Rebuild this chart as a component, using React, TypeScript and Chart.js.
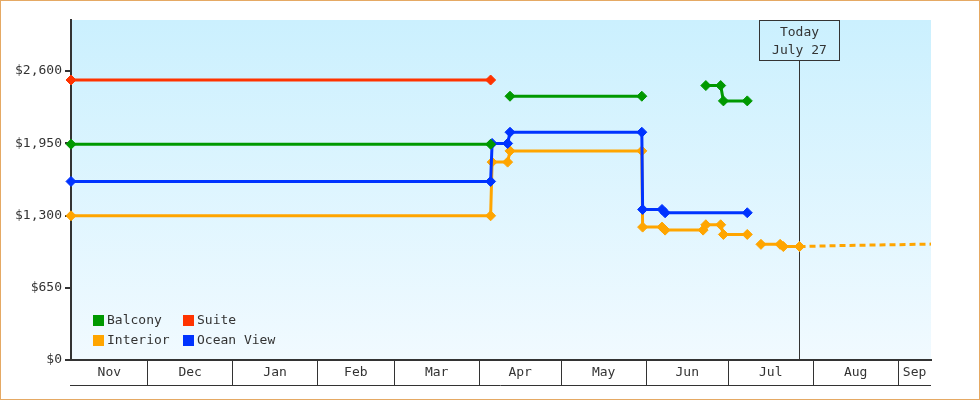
import React, { useEffect, useRef } from "react";
import { Chart, registerables } from "chart.js";

Chart.register(...registerables);

// ---- Data ----
const RANGE_START = "2024-11-03";
const RANGE_END = "2025-09-13";
const TODAY = "2025-07-27";
const TODAY_LABEL = ["Today", "July 27"];
const MONTH_LABELS = ["Nov", "Dec", "Jan", "Feb", "Mar", "Apr", "May", "Jun", "Jul", "Aug", "Sep"];
const Y_TICKS = [0, 650, 1300, 1950, 2600];
const Y_MAX = 3060;

const balconyDates = ["2024-11-03", "2025-04-05T05", "2025-04-08", "2025-04-12T07", "2025-05-30T10", "2025-06-10", "2025-06-22T19", "2025-06-28T05", "2025-06-29T05", "2025-07-07T22"];
const balconyPrices = [1942, 1942, null, 2374, 2374, null, 2470, 2470, 2332, 2332];

const suiteDates = ["2024-11-03", "2025-04-05T05"];
const suitePrices = [2520, 2520];

const interiorDates = ["2024-11-03", "2025-04-05T05", "2025-04-05T18", "2025-04-11T10", "2025-04-12T07", "2025-05-30T10", "2025-05-30T17", "2025-06-06T19", "2025-06-07T22", "2025-06-21T19", "2025-06-22T19", "2025-06-28T05", "2025-06-29T05", "2025-07-07T22", "2025-07-10", "2025-07-12T22", "2025-07-19T22", "2025-07-21T02", "2025-07-27"];
const interiorPrices = [1298, 1298, 1781, 1781, 1882, 1882, 1196, 1196, 1169, 1169, 1217, 1217, 1130, 1130, null, 1041, 1041, 1021, 1021];

const interiorForecastDates = ["2025-07-27", "2025-08-07T02", "2025-09-13"];
const interiorForecastPrices = [1021, 1028, 1043];

const oceanDates = ["2024-11-03", "2025-04-05T05", "2025-04-05T18", "2025-04-11T10", "2025-04-12T07", "2025-05-30T10", "2025-05-30T17", "2025-06-06T19", "2025-06-07T22", "2025-07-07T22"];
const oceanPrices = [1607, 1607, 1949, 1949, 2050, 2050, 1355, 1355, 1325, 1325];

const GREEN = "#009900";
const RED = "#ff3300";
const ORANGE = "#ffa500";
const BLUE = "#0033ff";
const INK = "#333333";
const FONT = { family: "'DejaVu Sans Mono', monospace", size: 13 };

// ---- helpers ----
const day = (s: string) => {
  const [d, t] = s.split("T");
  const [Y, M, D] = d.split("-").map(Number);
  return Date.UTC(Y, M - 1, D, t ? Number(t) : 0) / 86400000;
};
const pts = (dates: string[], prices: (number | null)[]) =>
  dates.map((d, i) => ({ x: day(d), y: prices[i] }));

const X_MIN = day(RANGE_START);
const X_MAX = day(RANGE_END);

type MTick = { value: number; boundary?: boolean; name?: string };
const buildMonthTicks = (): MTick[] => {
  const out: MTick[] = [];
  const [sy, sm] = RANGE_START.split("-").map(Number);
  MONTH_LABELS.forEach((name, i) => {
    const start = Date.UTC(sy, sm - 1 + i, 1) / 86400000;
    const end = Date.UTC(sy, sm + i, 1) / 86400000;
    const a = Math.max(start, X_MIN);
    const b = Math.min(end, X_MAX);
    if (start > X_MIN) out.push({ value: start, boundary: true, name: "" });
    out.push({ value: (a + b) / 2, boundary: false, name });
  });
  return out;
};
const MONTH_TICKS = buildMonthTicks();

const LEGEND = [
  { label: "Balcony", color: GREEN },
  { label: "Suite", color: RED },
  { label: "Interior", color: ORANGE },
  { label: "Ocean View", color: BLUE },
];

const decorPlugin = {
  id: "decor",
  beforeDraw(chart: any) {
    const { ctx, chartArea: a, width, height } = chart;
    ctx.save();
    ctx.fillStyle = "#ffffff";
    ctx.fillRect(0, 0, width, height);
    const g = ctx.createLinearGradient(0, a.top, 0, a.bottom);
    g.addColorStop(0, "#cbf0fe");
    g.addColorStop(1, "#f1faff");
    ctx.fillStyle = g;
    ctx.fillRect(a.left, a.top, a.right - a.left, a.bottom - a.top);
    ctx.strokeStyle = "#e5a964";
    ctx.lineWidth = 1;
    ctx.strokeRect(0.5, 0.5, width - 1, height - 1);
    ctx.restore();
  },
  beforeDatasetsDraw(chart: any) {
    const { ctx, chartArea: a, scales } = chart;
    const x = Math.floor(scales.x.getPixelForValue(day(TODAY))) + 0.5;
    const boxW = 80, boxH = 40, boxTop = a.top + 0.5;
    ctx.save();
    ctx.strokeStyle = INK;
    ctx.lineWidth = 1;
    ctx.beginPath();
    ctx.moveTo(x, boxTop + boxH);
    ctx.lineTo(x, a.bottom);
    ctx.stroke();
    ctx.strokeRect(x - boxW / 2, boxTop, boxW, boxH);
    ctx.fillStyle = INK;
    ctx.font = `${FONT.size}px ${FONT.family}`;
    ctx.textAlign = "center";
    ctx.textBaseline = "middle";
    ctx.fillText(TODAY_LABEL[0], x, boxTop + 12.5);
    ctx.fillText(TODAY_LABEL[1], x, boxTop + 30);
    ctx.restore();
  },
  afterDraw(chart: any) {
    const { ctx, chartArea: a, scales } = chart;
    ctx.save();
    // bottom line of month row
    ctx.strokeStyle = INK;
    ctx.lineWidth = 1;
    const yb = Math.round(scales.x.top + 25) + 0.5;
    ctx.beginPath();
    ctx.moveTo(a.left - 1, yb);
    ctx.lineTo(a.right, yb);
    ctx.stroke();
    // legend
    ctx.font = `${FONT.size}px ${FONT.family}`;
    ctx.textBaseline = "middle";
    ctx.textAlign = "left";
    LEGEND.forEach((item, i) => {
      const col = i % 2, row = Math.floor(i / 2);
      const bx = a.left + 22 + col * 90;
      const by = a.bottom - 45 + row * 20;
      ctx.fillStyle = item.color;
      ctx.fillRect(bx, by, 11, 11);
      ctx.fillStyle = INK;
      ctx.fillText(item.label, bx + 14, by + 6);
    });
    ctx.restore();
  },
};

const lineDs = (label: string, data: any[], color: string, order: number) => ({
  label,
  data,
  borderColor: color,
  backgroundColor: color,
  borderWidth: 3,
  pointStyle: "rectRot",
  pointRadius: 5,
  pointBorderWidth: 1,
  pointBorderColor: color,
  pointBackgroundColor: color,
  spanGaps: false,
  tension: 0,
  clip: false,
  order,
});

export default function App() {
  const ref = useRef<HTMLCanvasElement | null>(null);
  useEffect(() => {
    if (!ref.current) return;
    const chart = new Chart(ref.current, {
      type: "line",
      data: {
        datasets: [
          lineDs("Balcony", pts(balconyDates, balconyPrices), GREEN, 0),
          lineDs("Suite", pts(suiteDates, suitePrices), RED, 3),
          lineDs("Interior", pts(interiorDates, interiorPrices), ORANGE, 2),
          lineDs("Ocean View", pts(oceanDates, oceanPrices), BLUE, 1),
          {
            ...lineDs("Interior forecast", pts(interiorForecastDates, interiorForecastPrices), ORANGE, 4),
            pointRadius: 0,
            borderDash: [6, 4],
          },
        ] as any,
      },
      options: {
        animation: false,
        responsive: false,
        maintainAspectRatio: false,
        layout: { padding: { top: 20, right: 49, bottom: 0, left: 0 } },
        plugins: { legend: { display: false }, tooltip: { enabled: false } },
        scales: {
          x: {
            type: "linear",
            min: X_MIN,
            max: X_MAX,
            afterBuildTicks: (s: any) => {
              s.ticks = MONTH_TICKS.map((t) => ({ ...t }));
            },
            afterFit: (s: any) => {
              s.height = 40;
            },
            border: { display: true, color: INK, width: 2 },
            grid: {
              drawOnChartArea: false,
              drawTicks: true,
              tickLength: 25,
              lineWidth: 1,
              color: (c: any) => (c.tick && c.tick.boundary ? INK : "rgba(0,0,0,0)"),
            },
            ticks: {
              autoSkip: false,
              maxRotation: 0,
              minRotation: 0,
              padding: -20,
              color: INK,
              font: FONT,
              callback: (_v: any, i: number) => (MONTH_TICKS[i] ? MONTH_TICKS[i].name : ""),
            },
          },
          y: {
            min: 0,
            max: Y_MAX,
            afterBuildTicks: (s: any) => {
              s.ticks = Y_TICKS.map((v) => ({ value: v }));
            },
            afterFit: (s: any) => {
              s.width = 71;
            },
            border: { display: true, color: INK, width: 2 },
            grid: { drawOnChartArea: false, drawTicks: true, tickLength: 6, color: INK, lineWidth: 2 },
            ticks: {
              padding: 3,
              color: INK,
              font: FONT,
              callback: (v: any) => "$" + Number(v).toLocaleString("en-US"),
            },
          },
        },
      } as any,
      plugins: [decorPlugin],
    });
    return () => chart.destroy();
  }, []);
  return (
    <div style={{ position: "fixed", left: 0, top: 0, width: 980, height: 400 }}>
      <canvas ref={ref} width={980} height={400} style={{ width: 980, height: 400, display: "block" }} />
    </div>
  );
}
